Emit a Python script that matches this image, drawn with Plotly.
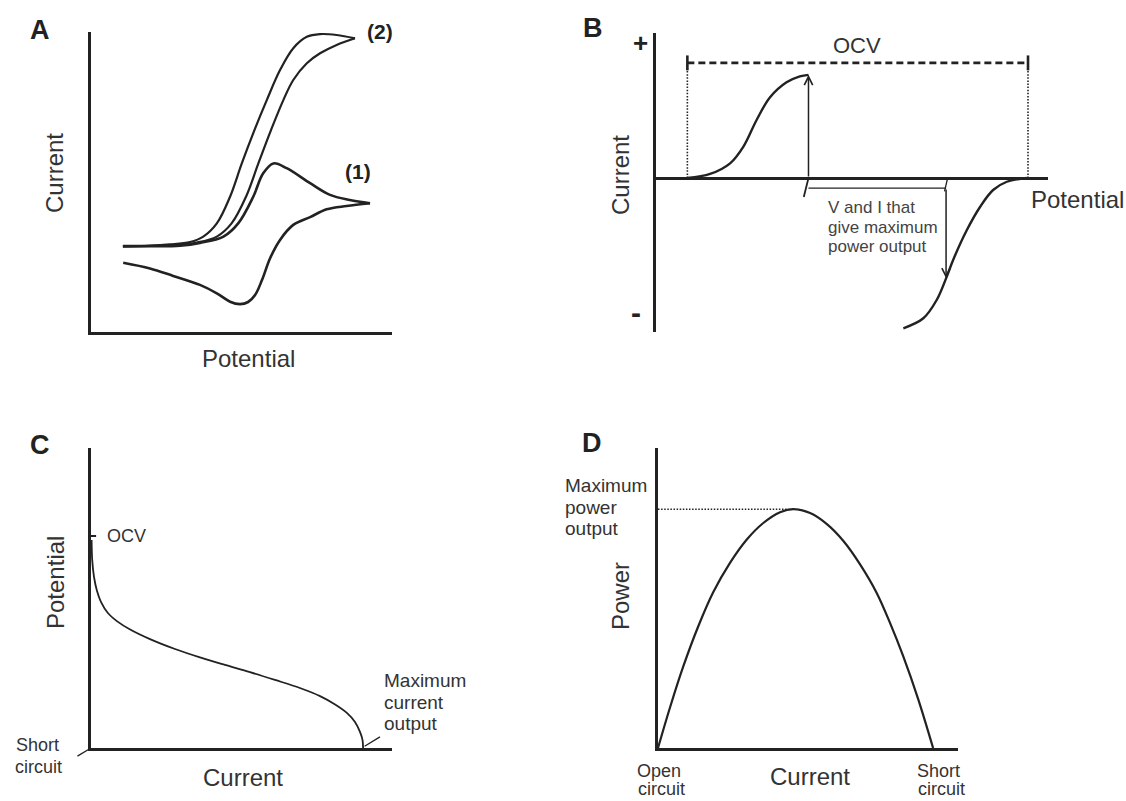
import plotly.graph_objects as go

W, H = 1126, 801
INK = "#222222"
TXT = "#333333"
FONT = "Liberation Sans, Arial, sans-serif"

# ---------------- Panel A: cyclic voltammograms ----------------
# (1) reversible couple, (2) catalytic wave; each drawn as forward + reverse sweep
A_fwd2_pot = [1.06, 1.96, 2.62, 3.29, 3.73, 4.18, 4.62, 5.01, 5.43, 5.84, 6.28, 6.72, 7.17, 7.61, 8.16, 8.77]
A_fwd2_cur = [2.87, 2.88, 2.92, 3.00, 3.18, 3.62, 4.51, 5.62, 6.73, 7.73, 8.73, 9.46, 9.84, 9.93, 9.90, 9.79]
A_rev2_pot = [8.77, 8.16, 7.61, 7.17, 6.72, 6.39, 5.98, 5.56, 5.15, 4.67, 4.18, 3.51, 2.85, 1.96, 1.06]
A_rev2_cur = [9.79, 9.57, 9.29, 8.96, 8.40, 7.73, 6.73, 5.62, 4.51, 3.62, 3.18, 2.98, 2.90, 2.87, 2.85]
A_fwd1_pot = [1.06, 1.96, 2.96, 3.62, 4.40, 4.89, 5.39, 5.72, 6.06, 6.50, 7.28, 7.94, 8.60, 9.27]
A_fwd1_cur = [2.85, 2.86, 2.88, 2.97, 3.18, 3.62, 4.51, 5.29, 5.62, 5.46, 4.96, 4.57, 4.40, 4.29]
A_rev1_pot = [9.27, 8.49, 7.83, 7.28, 6.72, 6.28, 5.95, 5.68, 5.45, 5.22, 4.95, 4.62, 4.18, 3.62, 2.73, 1.96, 1.07]
A_rev1_cur = [4.29, 4.20, 4.09, 3.83, 3.57, 3.07, 2.46, 1.73, 1.23, 1.00, 0.93, 1.01, 1.29, 1.57, 1.87, 2.12, 2.31]

# ---------------- Panel B: anode and cathode polarisation ----------------
B_ox_pot = [0.80, 1.38, 1.89, 2.23, 2.57, 2.91, 3.33, 3.67, 3.89]
B_ox_cur = [0.00, 0.027, 0.098, 0.21, 0.39, 0.54, 0.64, 0.68, 0.69]
B_red_pot = [9.46, 8.95, 8.60, 8.27, 7.93, 7.58, 7.40, 7.16, 6.82, 6.31]
B_red_cur = [0.00, -0.025, -0.080, -0.192, -0.348, -0.548, -0.671, -0.816, -0.938, -1.005]
B_ocv_ends = [0.80, 9.49]
B_ocv_level = 0.77
B_mpp_ox = (3.89, 0.69)
B_mpp_red = (7.40, -0.671)
B_bracket_level = -0.067

# ---------------- Panel C: polarisation curve ----------------
C_cur = [0.02, 0.04, 0.10, 0.20, 0.33, 0.56, 0.86, 1.30, 1.96, 2.79, 3.62, 4.45, 5.28, 6.11,
         6.94, 7.61, 8.11, 8.50, 8.77, 8.94, 9.02, 9.04]
C_pot = [6.93, 6.27, 5.70, 5.23, 4.87, 4.50, 4.23, 3.95, 3.63, 3.30, 3.02, 2.77, 2.53, 2.27,
         2.00, 1.73, 1.45, 1.17, 0.87, 0.53, 0.27, 0.00]
C_ocv = 7.07

# ---------------- Panel D: power curve ----------------
D_cur = [0.00, 0.40, 0.84, 1.34, 1.84, 2.40, 2.96, 3.51, 4.07, 4.51, 5.07, 5.62, 6.18, 6.73, 7.29, 7.73, 8.17, 8.67, 9.17]
D_pow = [0.00, 1.35, 2.71, 4.05, 5.19, 6.17, 6.95, 7.50, 7.86, 7.96, 7.83, 7.47, 6.90, 6.13, 5.17, 4.18, 3.07, 1.64, 0.00]
D_pmax = 7.96
D_pmax_cur = 4.30


def hx(p):
    return p / W


def vy(p):
    return 1 - p / H


fig = go.Figure()


def curve(x, y, ax, width=2.4, dash=None, smooth=True):
    line = dict(color=INK, width=width)
    if smooth:
        line.update(shape="spline", smoothing=1.0)
    if dash:
        line["dash"] = dash
    xr, yr = ax
    fig.add_trace(go.Scatter(x=x, y=y, mode="lines", line=line, hoverinfo="skip",
                             showlegend=False, xaxis=xr, yaxis=yr))


def seg(x0, y0, x1, y1, ax, width=1.5, head=0, size=1.0):
    xr, yr = ax
    fig.add_annotation(x=x1, y=y1, ax=x0, ay=y0, xref=xr, yref=yr,
                       axref=xr, ayref=yr, text="", showarrow=True,
                       arrowhead=head, arrowsize=size, arrowwidth=width,
                       arrowcolor=INK, standoff=0, startstandoff=0)


def label(text, x, y, size, bold=False, xanchor="center", angle=0, color=TXT):
    if bold:
        text = "<b>" + text + "</b>"
    fig.add_annotation(x=hx(x), y=vy(y), xref="paper", yref="paper", text=text,
                       showarrow=False, xanchor=xanchor, yanchor="middle",
                       textangle=angle, align="left",
                       font=dict(family=FONT, size=size, color=color))


# A
axA = ("x", "y")
curve(A_fwd2_pot, A_fwd2_cur, axA, 2.2)
curve(A_rev2_pot, A_rev2_cur, axA, 2.2)
curve(A_fwd1_pot, A_fwd1_cur, axA, 2.6)
curve(A_rev1_pot, A_rev1_cur, axA, 2.6)

# B
axB = ("x2", "y2")
curve(B_ox_pot, B_ox_cur, axB, 2.4)
curve(B_red_pot, B_red_cur, axB, 2.4)
curve(B_ocv_ends, [B_ocv_level] * 2, axB, 2.6, dash="7px,4px", smooth=False)
for xo in B_ocv_ends:
    curve([xo, xo], [0, B_ocv_level], axB, 1.6, dash="1.5px,1.6px", smooth=False)
    curve([xo, xo], [B_ocv_level - 0.05, B_ocv_level + 0.05], axB, 2.6, smooth=False)
seg(B_mpp_ox[0], 0, B_mpp_ox[0], B_mpp_ox[1], axB, 1.5, head=5, size=1.1)
seg(B_mpp_red[0], B_bracket_level, B_mpp_red[0], B_mpp_red[1], axB, 1.5, head=5, size=1.1)
curve([B_mpp_ox[0], B_mpp_red[0]], [B_bracket_level] * 2, axB, 1.3, smooth=False)
seg(B_mpp_ox[0], 0, B_mpp_ox[0] - 0.12, -0.127, axB, 1.8)
seg(B_mpp_red[0] + 0.04, 0, B_mpp_red[0] - 0.04, -0.09, axB, 1.3)

# C
axC = ("x3", "y3")
curve(C_cur, C_pot, axC, 1.8)
seg(-0.15, C_ocv, 0.17, C_ocv, axC, 2.0)
seg(-0.50, -0.30, 0, 0, axC, 1.3)
seg(C_cur[-1], 0.03, C_cur[-1] + 0.56, 0.37, axC, 1.3)

# D
axD = ("x4", "y4")
curve(D_cur, D_pow, axD, 2.2)
curve([0, D_pmax_cur], [D_pmax, D_pmax], axD, 1.6, dash="1.5px,1.6px", smooth=False)

# axes
common = dict(showgrid=False, zeroline=False, showticklabels=False, ticks="",
              linecolor=INK, linewidth=2.6, fixedrange=True)
fig.update_layout(
    width=W, height=H, margin=dict(l=0, r=0, t=0, b=0),
    paper_bgcolor="white", plot_bgcolor="rgba(0,0,0,0)", showlegend=False,
    xaxis=dict(common, domain=[hx(91), hx(392)], range=[0, 10], anchor="y", showline=True),
    yaxis=dict(common, domain=[vy(332), vy(32)], range=[0, 10], anchor="x", showline=True),
    xaxis2=dict(common, domain=[hx(656), hx(1048)], range=[0, 10], anchor="y2", showline=False),
    yaxis2=dict(common, domain=[vy(332), vy(33)], range=[-1.03, 0.97], anchor="x2", showline=True,
                zeroline=True, zerolinecolor=INK, zerolinewidth=3),
    xaxis3=dict(common, domain=[hx(91), hx(392)], range=[0, 10], anchor="y3", showline=True),
    yaxis3=dict(common, domain=[vy(748), vy(448)], range=[0, 10], anchor="x3", showline=True),
    xaxis4=dict(common, domain=[hx(658), hx(958)], range=[0, 10], anchor="y4", showline=True),
    yaxis4=dict(common, domain=[vy(748), vy(448)], range=[0, 10], anchor="x4", showline=True),
)

# panel letters
label("A", 40, 30, 27, bold=True, color="#222")
label("B", 593, 28, 27, bold=True, color="#222")
label("C", 40, 445, 27, bold=True, color="#222")
label("D", 592, 443, 27, bold=True, color="#222")

# A texts
label("(2)", 380, 32, 21, bold=True, color="#222")
label("(1)", 358, 172, 21, bold=True, color="#222")
label("Current", 55, 173, 24, angle=-90)
label("Potential", 248, 358, 24)

# B texts
label("+", 640, 43, 26, bold=True, color="#222")
label("-", 636, 312, 30, bold=True, color="#222")
label("OCV", 857, 45, 22)
label("Current", 621, 175, 24, angle=-90)
label("Potential", 1029, 200, 24, xanchor="left")
label("V and I that", 826, 208, 17, xanchor="left", color="#444")
label("give maximum", 826, 227, 17, xanchor="left", color="#444")
label("power output", 826, 247, 17, xanchor="left", color="#444")

# C texts
label("OCV", 105, 536, 18, xanchor="left")
label("Potential", 55, 583, 24, angle=-90)
label("Current", 243, 777, 24)
label("Short", 37, 745, 18)
label("circuit", 38, 767, 18)
label("Maximum", 382, 680, 19, xanchor="left")
label("current", 382, 702, 19, xanchor="left")
label("output", 382, 723, 19, xanchor="left")

# D texts
label("Maximum", 563, 485, 19, xanchor="left")
label("power", 563, 507, 19, xanchor="left")
label("output", 563, 528, 19, xanchor="left")
label("Power", 620, 596, 24, angle=-90)
label("Current", 810, 776, 24)
label("Open", 659, 771, 18)
label("circuit", 661, 789, 18)
label("Short", 938, 771, 18)
label("circuit", 941, 789, 18)

fig.write_html("out.html", config={"displayModeBar": False})
